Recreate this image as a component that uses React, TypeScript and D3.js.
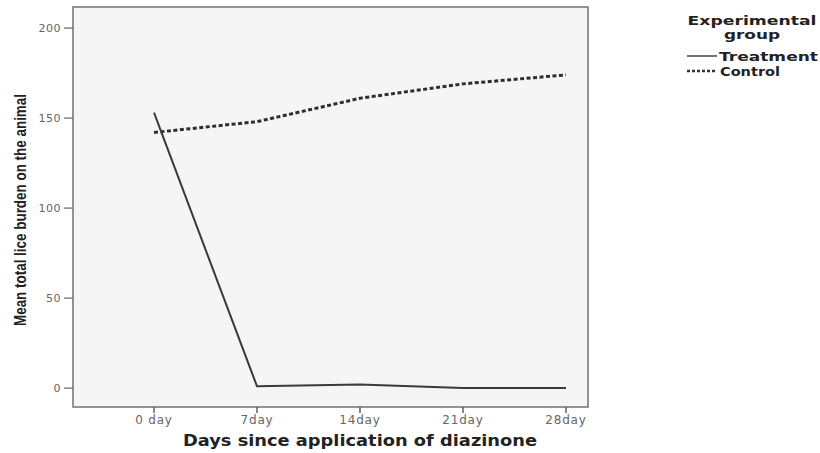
import React from "react";
import * as d3 from "d3";

const days = ["0 day", "7day", "14day", "21day", "28day"];
const treatment = [153, 1, 2, 0, 0];
const control = [142, 148, 161, 169, 174];
const yTicks = [0, 50, 100, 150, 200];

export default function App() {
  const W = 820, H = 453;
  const left = 73, right = 588, top = 7, bottom = 407;
  const x = d3.scalePoint<string>().domain(days).range([154, 566]);
  const y = d3.scaleLinear().domain([-10.5, 211.7]).range([bottom, top]);
  const line = d3
    .line<number>()
    .x((_, i) => x(days[i]) as number)
    .y((d) => y(d));
  const tickFont = "'DejaVu Sans', Verdana, sans-serif";
  return (
    <svg width={W} height={H} style={{ position: "absolute", left: 0, top: 0, background: "#fff" }}>
      <rect x={left} y={top} width={right - left} height={bottom - top} fill="#f5f5f6" stroke="#7a7a7a" strokeWidth={1.6} />
      {yTicks.map((t) => (
        <g key={t}>
          <line x1={64} x2={left} y1={y(t)} y2={y(t)} stroke="#666" strokeWidth={1.2} />
          <text x={61} y={y(t) + 4} textAnchor="end" fontFamily={tickFont} fontSize={11} fill="#666" letterSpacing={0.5}>
            {t}
          </text>
        </g>
      ))}
      {days.map((d) => (
        <g key={d}>
          <line x1={x(d)} x2={x(d)} y1={bottom} y2={bottom + 6} stroke="#555" strokeWidth={1.4} />
          <text x={x(d)} y={bottom + 17} textAnchor="middle" fontFamily={tickFont} fontSize={12} fill="#666" letterSpacing={0.8}>
            {d}
          </text>
        </g>
      ))}
      <path d={line(control) || ""} fill="none" stroke="#2e2e2e" strokeWidth={3} strokeDasharray="4,2.5" />
      <path d={line(treatment) || ""} fill="none" stroke="#3a3a3a" strokeWidth={2} />
      <text
        x={360}
        y={446}
        textAnchor="middle"
        fontFamily={tickFont}
        fontWeight="bold"
        fontSize={15}
        fill="#222"
        textLength={354}
        lengthAdjust="spacingAndGlyphs"
      >
        Days since application of diazinone
      </text>
      <text
        transform={`translate(26,210) rotate(-90)`}
        textAnchor="middle"
        fontFamily="'Liberation Sans Narrow', 'Liberation Sans', Arial, sans-serif"
        fontWeight="bold"
        fontSize={17}
        fill="#222"
        textLength={232}
        lengthAdjust="spacingAndGlyphs"
      >
        Mean total lice burden on the animal
      </text>
      <g fontFamily={tickFont} fontWeight="bold" fontSize={13} fill="#222">
        <text x={752} y={25} textAnchor="middle" textLength={129} lengthAdjust="spacingAndGlyphs">Experimental</text>
        <text x={752} y={39} textAnchor="middle" textLength={56} lengthAdjust="spacingAndGlyphs">group</text>
        <line x1={687} x2={717} y1={56} y2={56} stroke="#444" strokeWidth={1.5} />
        <text x={719} y={61} textLength={99} lengthAdjust="spacingAndGlyphs">Treatment</text>
        <line x1={687} x2={717} y1={71} y2={71} stroke="#333" strokeWidth={2.5} strokeDasharray="3,2" />
        <text x={720} y={76} textLength={60} lengthAdjust="spacingAndGlyphs">Control</text>
      </g>
    </svg>
  );
}
